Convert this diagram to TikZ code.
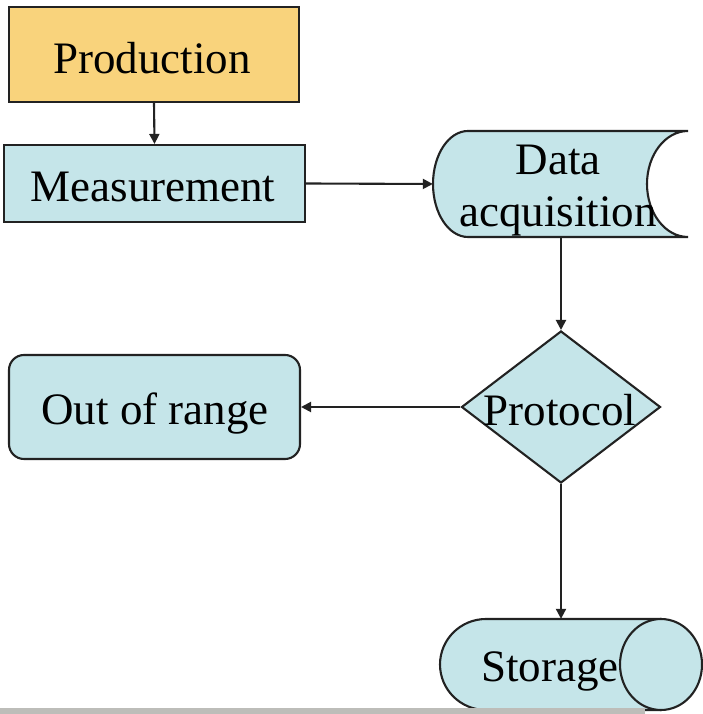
\documentclass[tikz,border=0pt]{standalone}
\usepackage{fontspec}
\setmainfont{Liberation Serif}
\usetikzlibrary{shapes.geometric,arrows.meta}
\definecolor{prodfill}{HTML}{F9D37C}
\definecolor{boxfill}{HTML}{C5E5E9}
\definecolor{edge}{HTML}{222222}
\definecolor{stripgray}{HTML}{BDBDB9}
\begin{document}
\begin{tikzpicture}[x=1pt,y=1pt,
  every node/.style={font=\fontsize{45}{50}\selectfont},
  shapeline/.style={draw=edge,line width=2.1pt},
  conn/.style={draw=edge,line width=2.1pt,-{Triangle[length=10pt,width=10pt]}},
  plainbox/.style={shapeline,inner sep=0pt},
  anchorbox/.style={inner sep=0pt},
  lbl/.style={inner sep=0pt,anchor=base}]
\useasboundingbox (0,0) rectangle (703,714);
\fill[white] (0,0) rectangle (703,714);

% Production
\node[plainbox,fill=prodfill,minimum width=290pt,minimum height=95pt] (prod) at (154,659.5) {};
\node[lbl] (prodtext) at (152,640) {Production};
% Measurement
\node[plainbox,fill=boxfill,minimum width=301pt,minimum height=77pt] (meas) at (154.5,530.5) {};
\node[lbl] (meastext) at (153,512) {Measurement};
% Out of range
\node[plainbox,fill=boxfill,rounded corners=15pt,minimum width=291pt,minimum height=104pt] (oor) at (154.5,307) {};
\node[lbl] (oortext) at (155,289) {Out of range};

% Data acquisition (stored data shape)
\path[fill=boxfill] (468,583) -- (688,583) arc[start angle=90,end angle=270,x radius=41,y radius=53]
  -- (468,477) arc[start angle=270,end angle=90,x radius=35,y radius=53] -- cycle;
\draw[shapeline] (468,583) -- (688,583) arc[start angle=90,end angle=270,x radius=41,y radius=53]
  -- (468,477) arc[start angle=270,end angle=90,x radius=35,y radius=53] -- cycle;
\node[anchorbox,minimum width=255pt,minimum height=106pt] (daq) at (560.5,530) {};
\node[lbl] (daqtext1) at (558,539) {Data};
\node[lbl] (daqtext2) at (558,487) {acquisition};

% Protocol diamond
\node[diamond,shapeline,fill=boxfill,inner sep=0pt,minimum width=199pt,minimum height=152pt] (prot) at (561,307) {};
\node[lbl] (prottext) at (560,288) {Protocol};

% Storage (horizontal cylinder)
\path[fill=boxfill] (486,95) -- (661,95) -- (661,4) -- (486,4) arc[start angle=270,end angle=90,x radius=46,y radius=45.5] -- cycle;
\draw[shapeline] (661,95) -- (486,95) arc[start angle=90,end angle=270,x radius=46,y radius=45.5] -- (661,4);
\node[lbl] (stortext) at (550,32) {Storage};
\draw[shapeline,fill=boxfill] (661,49.5) ellipse[x radius=41,y radius=45.5];
\node[anchorbox,minimum width=262pt,minimum height=91pt] (stor) at (571,49.5) {};

% Connectors
\draw[conn] (prod.south) -- (meas.north);
\draw[conn] (meas.east) -- (daq.west);
\draw[conn] (daq.south -| prot.north) -- (prot.north);
\draw[conn] (prot.west) -- (oor.east);
\draw[conn] (prot.south) -- (stor.north -| prot.south);

% bottom photo strip
\fill[stripgray] (0,0) rectangle (645,5.5);
\end{tikzpicture}
\end{document}
